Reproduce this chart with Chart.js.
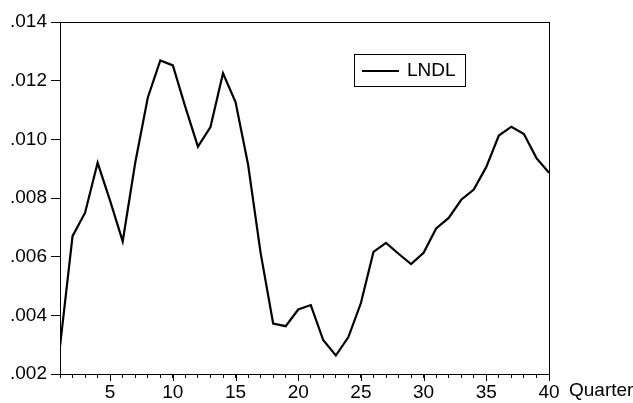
<!DOCTYPE html>
<html>
<head>
<meta charset="utf-8">
<script src="https://cdn.jsdelivr.net/npm/chart.js@4.4.1/dist/chart.umd.min.js"></script>
<style>
  html, body { margin: 0; padding: 0; background: #fff; }
  #wrap { width: 633px; height: 403px; }
</style>
</head>
<body>
<div id="wrap"><canvas id="c" width="633" height="403"></canvas></div>
<script>
// Quarterly series LNDL
const quarters = [1, 2, 3, 4, 5, 6, 7, 8, 9, 10,
                  11, 12, 13, 14, 15, 16, 17, 18, 19, 20,
                  21, 22, 23, 24, 25, 26, 27, 28, 29, 30,
                  31, 32, 33, 34, 35, 36, 37, 38, 39, 40];
const lndl = [0.00294, 0.00670, 0.00750, 0.00920, 0.00790, 0.00652, 0.00920, 0.01142, 0.01269, 0.01252,
              0.01110, 0.00975, 0.01042, 0.01225, 0.01127, 0.00914, 0.00613, 0.00372, 0.00363, 0.00420,
              0.00435, 0.00315, 0.00263, 0.00326, 0.00442, 0.00616, 0.00647, 0.00610, 0.00575, 0.00613,
              0.00696, 0.00732, 0.00794, 0.00829, 0.00906, 0.01013, 0.01043, 0.01018, 0.00936, 0.00886];
const yTicks = [0.002, 0.004, 0.006, 0.008, 0.010, 0.012, 0.014];
const xLabelTicks = [5, 10, 15, 20, 25, 30, 35, 40];
const seriesName = 'LNDL';
const xAxisTitle = 'Quarter';

const FONT = 'Liberation Sans, Arial, Helvetica, sans-serif';
const FONT_SIZE = 19;

// Frame around the plot, longer ticks at labelled quarters, legend box and axis caption
const decorations = {
  id: 'decorations',
  afterDraw(chart) {
    const ctx = chart.ctx;
    const a = chart.chartArea;
    const xs = chart.scales.x;
    ctx.save();
    ctx.strokeStyle = '#000';
    ctx.lineWidth = 1;
    ctx.strokeRect(Math.round(a.left) + 0.5, Math.round(a.top) + 0.5,
                   Math.round(a.right - a.left), Math.round(a.bottom - a.top));

    // major ticks
    ctx.beginPath();
    xLabelTicks.forEach(v => {
      const px = Math.round(xs.getPixelForValue(v)) + 0.5;
      ctx.moveTo(px, a.bottom);
      ctx.lineTo(px, a.bottom + 7);
    });
    ctx.stroke();

    // legend
    const lx = 354, ly = 54, lw = 111, lh = 32;
    ctx.strokeRect(lx + 0.5, ly + 0.5, lw, lh);
    ctx.beginPath();
    ctx.lineWidth = 2;
    ctx.moveTo(lx + 8, ly + 17);
    ctx.lineTo(lx + 45, ly + 17);
    ctx.stroke();
    ctx.fillStyle = '#000';
    ctx.font = FONT_SIZE + 'px ' + FONT;
    ctx.textBaseline = 'middle';
    ctx.textAlign = 'left';
    ctx.fillText(seriesName, lx + 53, ly + 17);

    // axis caption
    ctx.textBaseline = 'top';
    ctx.fillText(xAxisTitle, 569, a.bottom + 4 + 3);
    ctx.restore();
  }
};

new Chart(document.getElementById('c'), {
  type: 'line',
  data: {
    datasets: [{
      label: seriesName,
      data: quarters.map((q, i) => ({ x: q, y: lndl[i] })),
      borderColor: '#000',
      borderWidth: 2.2,
      pointRadius: 0,
      tension: 0,
      fill: false
    }]
  },
  options: {
    responsive: false,
    animation: false,
    layout: { padding: { top: 22, right: 84, left: 0, bottom: 0 } },
    plugins: { legend: { display: false }, tooltip: { enabled: false } },
    scales: {
      x: {
        type: 'linear',
        min: 1, max: 40,
        afterBuildTicks(scale) { scale.ticks = quarters.map(v => ({ value: v })); },
        afterFit(scale) { scale.height = 29; },
        border: { display: true, color: '#000', width: 1 },
        grid: { drawOnChartArea: false, drawTicks: true, tickLength: 4, color: '#000', tickColor: '#000' },
        ticks: {
          autoSkip: false, maxRotation: 0, padding: 3,
          color: '#000',
          font: { family: FONT, size: FONT_SIZE },
          callback: v => (xLabelTicks.includes(v) ? String(v) : '')
        }
      },
      y: {
        type: 'linear',
        min: 0.002, max: 0.014,
        afterBuildTicks(scale) { scale.ticks = yTicks.map(v => ({ value: v })); },
        afterFit(scale) { scale.width = 60; },
        border: { display: true, color: '#000', width: 1 },
        grid: { drawOnChartArea: false, drawTicks: true, tickLength: 9, color: '#000', tickColor: '#000' },
        ticks: {
          padding: 4,
          color: '#000',
          font: { family: FONT, size: FONT_SIZE },
          callback: v => v.toFixed(3).replace(/^0/, '')
        }
      }
    }
  },
  plugins: [decorations]
});
</script>
</body>
</html>
